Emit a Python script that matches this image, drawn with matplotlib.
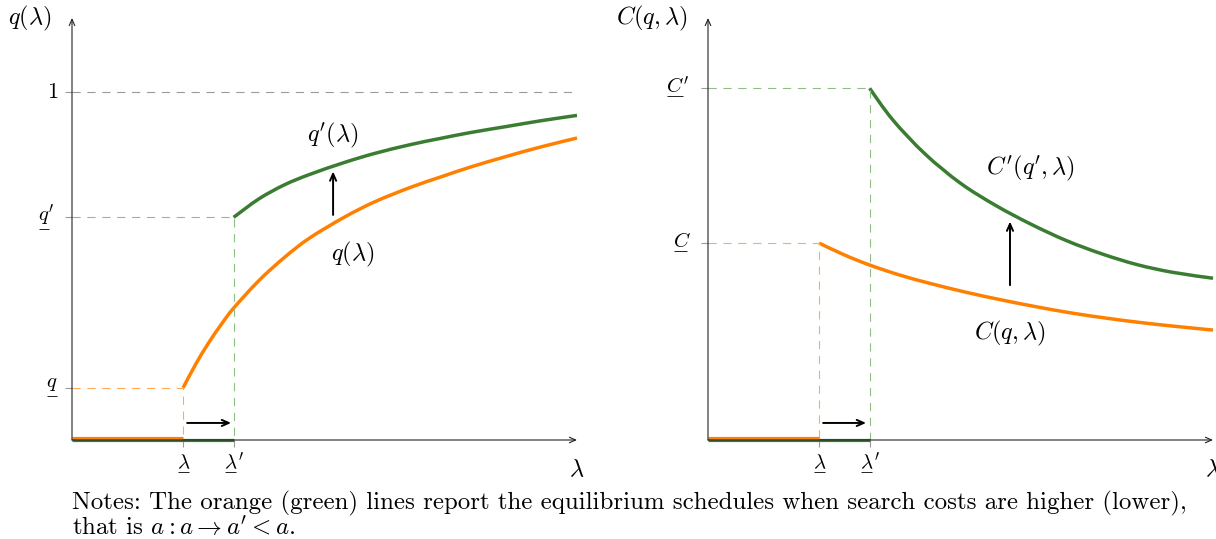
import matplotlib.pyplot as plt
from matplotlib.path import Path
from matplotlib.patches import PathPatch

plt.rcParams['mathtext.fontset'] = 'cm'
plt.rcParams['font.family'] = 'serif'
plt.rcParams['font.serif'] = ['cmr10']
plt.rcParams['axes.formatter.use_mathtext'] = True

# thresholds on the lambda axis
lam_low = 2.2
lam_high = 3.2

# left panel: q(lambda) for high and low search costs
lam_q = [2.2, 2.45, 2.7, 2.95, 3.2, 3.7, 4.2, 4.7, 5.4, 6.0, 6.7, 7.3, 7.9, 8.6, 9.3, 10.0]
q_high = [0.150, 0.218, 0.278, 0.331, 0.379, 0.458, 0.524, 0.580, 0.641, 0.685, 0.726,
          0.756, 0.785, 0.815, 0.843, 0.868]
lam_qp = [3.2, 3.7, 4.2, 4.7, 5.4, 6.0, 6.7, 7.3, 7.9, 8.6, 9.3, 10.0]
q_low = [0.640, 0.693, 0.733, 0.763, 0.798, 0.824, 0.849, 0.867, 0.884, 0.901, 0.918, 0.933]
q_min = 0.15
qp_min = 0.64

# right panel: C(q, lambda)
lam_c = [2.2, 2.7, 3.2, 3.8, 4.4, 5.1, 5.8, 6.5, 7.2, 7.9, 8.6, 9.3, 10.0]
c_high = [0.566, 0.532, 0.503, 0.474, 0.450, 0.425, 0.403, 0.383, 0.365, 0.350,
          0.337, 0.326, 0.316]
lam_cp = [3.2, 3.66, 4.3, 5.0, 5.7, 6.4, 7.1, 7.8, 8.5, 9.2, 10.0]
c_low = [1.011, 0.920, 0.822, 0.738, 0.674, 0.620, 0.573, 0.535, 0.504, 0.482, 0.465]
c_min = 0.566
cp_min = 1.011

orange = '#ff8000'
green = '#3a7d32'
orange_d = '#ffaa58'
green_d = '#8dbf85'
dash = dict(lw=0.8, dashes=[7.4, 6])
FS = 17.5     # curve and axis labels
TFS = 15      # tick labels

W, H = 1216, 539
fig = plt.figure(figsize=(W / 100, H / 100), dpi=100)


def smooth_line(ax, xs, ys, color):
    # Catmull-Rom through the points, drawn as cubic Bezier segments
    pts = list(zip(xs, ys))
    verts = [pts[0]]
    codes = [Path.MOVETO]
    for i in range(len(pts) - 1):
        p0 = pts[i - 1] if i > 0 else pts[i]
        p1, p2 = pts[i], pts[i + 1]
        p3 = pts[i + 2] if i + 2 < len(pts) else pts[i + 1]
        c1 = (p1[0] + (p2[0] - p0[0]) / 6, p1[1] + (p2[1] - p0[1]) / 6)
        c2 = (p2[0] - (p3[0] - p1[0]) / 6, p2[1] - (p3[1] - p1[1]) / 6)
        verts += [c1, c2, p2]
        codes += [Path.CURVE4] * 3
    ax.add_patch(PathPatch(Path(verts, codes), fill=False, edgecolor=color, lw=2.5,
                           clip_on=False, capstyle='butt'))


def underlined(ax, x0, x1, y_text, y_line, s):
    # mathtext has no \underline, so draw the bar by hand
    ax.text(x0, y_text, s, fontsize=TFS, ha='left', va='center')
    ax.plot([x0 + 0.02, x1], [y_line, y_line], color='black', lw=0.6,
            clip_on=False, solid_capstyle='butt')


def make_axes(x0):
    ax = fig.add_axes([x0 / W, 99 / H, 505 / W, 422 / H])
    ax.set_xlim(0, 10)
    ax.set_ylim(0, 1.213)
    for s in ax.spines.values():
        s.set_visible(False)
    ax.tick_params(length=5, width=0.8, color='#9a9a9a', labelleft=False,
                   labelbottom=False)
    arrow = dict(arrowstyle='->,head_length=0.45,head_width=0.2', color='#222222',
                 lw=0.8, shrinkA=0, shrinkB=0)
    ax.annotate('', xy=(1, 0), xytext=(0, 0), xycoords='axes fraction', arrowprops=arrow)
    ax.annotate('', xy=(0, 1), xytext=(0, 0), xycoords='axes fraction', arrowprops=arrow)
    ax.set_xticks([lam_low, lam_high])
    underlined(ax, lam_low - 0.12, lam_low + 0.12, -0.066, -0.093, r'$\lambda$')
    underlined(ax, lam_high - 0.19, lam_high + 0.05, -0.066, -0.093, r'$\lambda^{\prime}$')
    ax.text(10, -0.086, r'$\lambda$', fontsize=FS, ha='center', va='center')
    return ax


def move_arrow(ax, start, end):
    ax.annotate('', xy=end, xytext=start,
                arrowprops=dict(arrowstyle='->,head_length=0.5,head_width=0.22',
                                color='black', lw=1.4, shrinkA=0, shrinkB=0))


# ---- left panel
ax = make_axes(72)
ax.plot([0, 10], [1, 1], color='#9a9a9a', **dash)
ax.plot([0, lam_high, lam_high], [qp_min, qp_min, 0], color=green_d, **dash)
ax.plot([0, lam_low, lam_low], [q_min, q_min, 0], color=orange_d, **dash)
ax.plot([0, lam_high], [0, 0], color=green, lw=2.3, clip_on=False, solid_capstyle='butt')
ax.plot([0, lam_low], [0.0066, 0.0066], color=orange, lw=2.3, clip_on=False,
        solid_capstyle='butt')
smooth_line(ax, lam_q, q_high, orange)
smooth_line(ax, lam_qp, q_low, green)
ax.set_yticks([q_min, qp_min, 1])
ax.text(-0.277, 1, r'$1$', fontsize=TFS + 1, ha='right', va='center')
underlined(ax, -0.68, -0.455, 0.645, 0.607, r'$q^{\prime}$')
underlined(ax, -0.52, -0.297, 0.160, 0.127, r'$q$')
ax.text(-0.83, 1.213, r'$q(\lambda)$', fontsize=FS, ha='center', va='center')
ax.text(5.17, 0.876, r'$q^{\prime}(\lambda)$', fontsize=FS, ha='center', va='center')
ax.text(5.56, 0.532, r'$q(\lambda)$', fontsize=FS, ha='center', va='center')
move_arrow(ax, (5.17, 0.647), (5.17, 0.772))
move_arrow(ax, (2.28, 0.049), (3.15, 0.049))

# ---- right panel
ax = make_axes(708)
ax.plot([0, lam_high, lam_high], [cp_min, cp_min, 0], color=green_d, **dash)
ax.plot([0, lam_low, lam_low], [c_min, c_min, 0], color=orange_d, **dash)
ax.plot([0, lam_high], [0, 0], color=green, lw=2.3, clip_on=False, solid_capstyle='butt')
ax.plot([0, lam_low], [0.0066, 0.0066], color=orange, lw=2.3, clip_on=False,
        solid_capstyle='butt')
smooth_line(ax, lam_c, c_high, orange)
smooth_line(ax, lam_cp, c_low, green)
ax.set_yticks([c_min, cp_min])
underlined(ax, -0.84, -0.495, 1.017, 0.989, r'$C^{\prime}$')
underlined(ax, -0.70, -0.416, 0.572, 0.544, r'$C$')
ax.text(-1.11, 1.213, r'$C(q,\lambda)$', fontsize=FS, ha='center', va='center')
ax.text(6.38, 0.782, r"$C^{\prime}(q^{\prime},\lambda)$", fontsize=FS, ha='center', va='center')
ax.text(5.98, 0.307, r'$C(q,\lambda)$', fontsize=FS, ha='center', va='center')
move_arrow(ax, (5.98, 0.445), (5.98, 0.628))
move_arrow(ax, (2.28, 0.049), (3.13, 0.049))

fig.text(72 / W, 1 - 503 / H,
         'Notes: The orange (green) lines report the equilibrium schedules when search '
         'costs are higher (lower),', fontsize=17.9, ha='left', va='center')
fig.text(72 / W, 1 - 527 / H, r"that is $a : a \rightarrow a^{\prime} < a$.",
         fontsize=17.9, ha='left', va='center')

fig.savefig('out.png', dpi=100)
